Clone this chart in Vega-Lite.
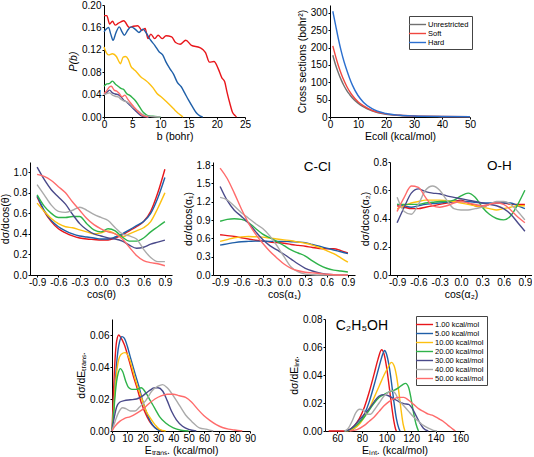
{
"$schema": "https://vega.github.io/schema/vega-lite/v6.json",
"padding": {"left": 0, "top": 0, "right": 0, "bottom": 0},
"background": "white",
"config": {
  "view": {"stroke": null},
  "font": "Liberation Sans",
  "locale": {"number": {"decimal": ".", "thousands": ",", "grouping": [3], "currency": ["$", ""], "minus": "-"}},
  "axis": {"domainColor": "#000", "tickColor": "#000", "labelColor": "#000", "titleColor": "#000", "grid": false,
    "labelFont": "Liberation Sans", "titleFont": "Liberation Sans", "labelFontSize": 10, "titleFontSize": 10.5,
    "titleFontWeight": "normal", "tickSize": 2, "domainWidth": 1, "tickWidth": 1,
    "labelFlush": false, "labelOverlap": false},
  "axisX": {"labelPadding": 0, "titlePadding": 2},
  "axisY": {"labelPadding": 1, "titlePadding": 3},
  "line": {"strokeWidth": 1.4, "interpolate": "monotone"}
},
"datasets": {
"pb": [
{"s":"1.00","x":0,"y":0.181},{"s":"1.00","x":0.5,"y":0.181},{"s":"1.00","x":1,"y":0.166},{"s":"1.00","x":1.5,"y":0.171},{"s":"1.00","x":2,"y":0.164},{"s":"1.00","x":2.5,"y":0.167},{"s":"1.00","x":3.5,"y":0.172},{"s":"1.00","x":4.5,"y":0.160},{"s":"1.00","x":5.2,"y":0.162},{"s":"1.00","x":6,"y":0.163},{"s":"1.00","x":6.7,"y":0.155},{"s":"1.00","x":7.3,"y":0.158},{"s":"1.00","x":7.8,"y":0.140},{"s":"1.00","x":8.3,"y":0.148},{"s":"1.00","x":9,"y":0.140},{"s":"1.00","x":9.6,"y":0.146},{"s":"1.00","x":10.3,"y":0.140},{"s":"1.00","x":11,"y":0.145},{"s":"1.00","x":12,"y":0.143},{"s":"1.00","x":12.7,"y":0.133},{"s":"1.00","x":13.5,"y":0.130},{"s":"1.00","x":14.5,"y":0.137},{"s":"1.00","x":15.5,"y":0.128},{"s":"1.00","x":17,"y":0.124},{"s":"1.00","x":18,"y":0.115},{"s":"1.00","x":18.7,"y":0.098},{"s":"1.00","x":19.5,"y":0.099},{"s":"1.00","x":20.3,"y":0.085},{"s":"1.00","x":20.9,"y":0.070},{"s":"1.00","x":21.4,"y":0.063},{"s":"1.00","x":21.8,"y":0.045},{"s":"1.00","x":22.3,"y":0.025},{"s":"1.00","x":22.8,"y":0.008},{"s":"1.00","x":23.3,"y":0.002},{"s":"1.00","x":23.5,"y":0},
{"s":"5.00","x":0,"y":0.152},{"s":"5.00","x":0.4,"y":0.157},{"s":"5.00","x":0.8,"y":0.160},{"s":"5.00","x":1.2,"y":0.148},{"s":"5.00","x":1.6,"y":0.137},{"s":"5.00","x":2.1,"y":0.150},{"s":"5.00","x":2.7,"y":0.161},{"s":"5.00","x":3.2,"y":0.152},{"s":"5.00","x":3.6,"y":0.146},{"s":"5.00","x":4.2,"y":0.155},{"s":"5.00","x":4.8,"y":0.161},{"s":"5.00","x":5.5,"y":0.157},{"s":"5.00","x":6.2,"y":0.151},{"s":"5.00","x":6.9,"y":0.157},{"s":"5.00","x":7.5,"y":0.150},{"s":"5.00","x":8.2,"y":0.138},{"s":"5.00","x":9,"y":0.128},{"s":"5.00","x":9.8,"y":0.116},{"s":"5.00","x":10.4,"y":0.111},{"s":"5.00","x":11,"y":0.098},{"s":"5.00","x":11.7,"y":0.086},{"s":"5.00","x":12.3,"y":0.077},{"s":"5.00","x":13,"y":0.062},{"s":"5.00","x":13.7,"y":0.054},{"s":"5.00","x":14.3,"y":0.043},{"s":"5.00","x":15,"y":0.030},{"s":"5.00","x":15.7,"y":0.018},{"s":"5.00","x":16.4,"y":0.007},{"s":"5.00","x":17,"y":0.002},{"s":"5.00","x":17.5,"y":0},
{"s":"10.00","x":0,"y":0.125},{"s":"10.00","x":0.4,"y":0.115},{"s":"10.00","x":0.8,"y":0.111},{"s":"10.00","x":1.5,"y":0.113},{"s":"10.00","x":2.2,"y":0.108},{"s":"10.00","x":2.6,"y":0.100},{"s":"10.00","x":2.9,"y":0.095},{"s":"10.00","x":3.4,"y":0.107},{"s":"10.00","x":3.8,"y":0.108},{"s":"10.00","x":4.3,"y":0.103},{"s":"10.00","x":4.8,"y":0.090},{"s":"10.00","x":5.3,"y":0.085},{"s":"10.00","x":5.8,"y":0.080},{"s":"10.00","x":6.5,"y":0.072},{"s":"10.00","x":7.3,"y":0.066},{"s":"10.00","x":8,"y":0.060},{"s":"10.00","x":8.7,"y":0.052},{"s":"10.00","x":9.4,"y":0.042},{"s":"10.00","x":10,"y":0.037},{"s":"10.00","x":10.8,"y":0.030},{"s":"10.00","x":11.5,"y":0.023},{"s":"10.00","x":12.3,"y":0.015},{"s":"10.00","x":13,"y":0.008},{"s":"10.00","x":13.5,"y":0.004},{"s":"10.00","x":14,"y":0},
{"s":"20.00","x":0,"y":0.055},{"s":"20.00","x":0.5,"y":0.059},{"s":"20.00","x":1,"y":0.060},{"s":"20.00","x":1.5,"y":0.064},{"s":"20.00","x":2,"y":0.059},{"s":"20.00","x":2.5,"y":0.055},{"s":"20.00","x":3,"y":0.051},{"s":"20.00","x":3.5,"y":0.049},{"s":"20.00","x":4,"y":0.042},{"s":"20.00","x":4.5,"y":0.039},{"s":"20.00","x":5,"y":0.035},{"s":"20.00","x":5.5,"y":0.030},{"s":"20.00","x":6,"y":0.023},{"s":"20.00","x":6.5,"y":0.015},{"s":"20.00","x":7,"y":0.008},{"s":"20.00","x":7.5,"y":0.004},{"s":"20.00","x":8,"y":0.002},{"s":"20.00","x":9,"y":0.001},{"s":"20.00","x":10,"y":0},
{"s":"30.00","x":0,"y":0.040},{"s":"30.00","x":0.5,"y":0.044},{"s":"30.00","x":1,"y":0.048},{"s":"30.00","x":1.5,"y":0.043},{"s":"30.00","x":2,"y":0.041},{"s":"30.00","x":2.5,"y":0.040},{"s":"30.00","x":3,"y":0.036},{"s":"30.00","x":3.5,"y":0.030},{"s":"30.00","x":4,"y":0.027},{"s":"30.00","x":4.5,"y":0.022},{"s":"30.00","x":5,"y":0.017},{"s":"30.00","x":5.5,"y":0.012},{"s":"30.00","x":6,"y":0.007},{"s":"30.00","x":6.5,"y":0.003},{"s":"30.00","x":7,"y":0.001},{"s":"30.00","x":8,"y":0},
{"s":"40.00","x":0,"y":0.040},{"s":"40.00","x":0.5,"y":0.042},{"s":"40.00","x":1,"y":0.043},{"s":"40.00","x":1.5,"y":0.039},{"s":"40.00","x":2,"y":0.037},{"s":"40.00","x":2.5,"y":0.036},{"s":"40.00","x":3,"y":0.032},{"s":"40.00","x":3.5,"y":0.029},{"s":"40.00","x":4,"y":0.027},{"s":"40.00","x":4.5,"y":0.024},{"s":"40.00","x":5,"y":0.019},{"s":"40.00","x":5.5,"y":0.015},{"s":"40.00","x":6,"y":0.011},{"s":"40.00","x":6.5,"y":0.007},{"s":"40.00","x":7,"y":0.004},{"s":"40.00","x":7.5,"y":0.002},{"s":"40.00","x":8.5,"y":0.001},{"s":"40.00","x":10,"y":0},
{"s":"50.00","x":0,"y":0.042},{"s":"50.00","x":0.5,"y":0.047},{"s":"50.00","x":1,"y":0.054},{"s":"50.00","x":1.3,"y":0.055},{"s":"50.00","x":1.8,"y":0.048},{"s":"50.00","x":2.3,"y":0.046},{"s":"50.00","x":2.7,"y":0.042},{"s":"50.00","x":3.2,"y":0.036},{"s":"50.00","x":3.7,"y":0.039},{"s":"50.00","x":4.2,"y":0.032},{"s":"50.00","x":4.8,"y":0.024},{"s":"50.00","x":5.3,"y":0.018},{"s":"50.00","x":5.8,"y":0.012},{"s":"50.00","x":6.3,"y":0.007},{"s":"50.00","x":6.8,"y":0.003},{"s":"50.00","x":7.3,"y":0.001},{"s":"50.00","x":7.8,"y":0}
],
"cs": [
{"s":"Unrestricted","x":1,"y":178},{"s":"Unrestricted","x":2,"y":150},{"s":"Unrestricted","x":3,"y":127},{"s":"Unrestricted","x":4,"y":107},{"s":"Unrestricted","x":5,"y":90},{"s":"Unrestricted","x":6,"y":76},{"s":"Unrestricted","x":7,"y":65},{"s":"Unrestricted","x":8,"y":55},{"s":"Unrestricted","x":10,"y":40},{"s":"Unrestricted","x":12,"y":29},{"s":"Unrestricted","x":15,"y":18},{"s":"Unrestricted","x":20,"y":8},{"s":"Unrestricted","x":25,"y":4.5},{"s":"Unrestricted","x":30,"y":2.5},{"s":"Unrestricted","x":40,"y":1.2},{"s":"Unrestricted","x":50,"y":0.8},
{"s":"Soft","x":1,"y":205},{"s":"Soft","x":2,"y":175},{"s":"Soft","x":3,"y":148},{"s":"Soft","x":4,"y":125},{"s":"Soft","x":5,"y":105},{"s":"Soft","x":6,"y":88},{"s":"Soft","x":7,"y":74},{"s":"Soft","x":8,"y":62},{"s":"Soft","x":10,"y":44},{"s":"Soft","x":12,"y":32},{"s":"Soft","x":15,"y":19},{"s":"Soft","x":20,"y":9},{"s":"Soft","x":25,"y":5},{"s":"Soft","x":30,"y":3},{"s":"Soft","x":40,"y":1.5},{"s":"Soft","x":50,"y":1},
{"s":"Hard","x":1,"y":305},{"s":"Hard","x":2,"y":265},{"s":"Hard","x":3,"y":225},{"s":"Hard","x":4,"y":190},{"s":"Hard","x":5,"y":160},{"s":"Hard","x":6,"y":135},{"s":"Hard","x":7,"y":112},{"s":"Hard","x":8,"y":92},{"s":"Hard","x":10,"y":62},{"s":"Hard","x":12,"y":42},{"s":"Hard","x":15,"y":24},{"s":"Hard","x":20,"y":10},{"s":"Hard","x":25,"y":5},{"s":"Hard","x":30,"y":3},{"s":"Hard","x":40,"y":1.5},{"s":"Hard","x":50,"y":1}
],
"th": [
{"s":"1.00","x":-0.9,"y":0.76},{"s":"1.00","x":-0.8,"y":0.62},{"s":"1.00","x":-0.7,"y":0.52},{"s":"1.00","x":-0.6,"y":0.45},{"s":"1.00","x":-0.5,"y":0.41},{"s":"1.00","x":-0.4,"y":0.38},{"s":"1.00","x":-0.3,"y":0.36},{"s":"1.00","x":-0.2,"y":0.35},{"s":"1.00","x":-0.1,"y":0.345},{"s":"1.00","x":0,"y":0.34},{"s":"1.00","x":0.1,"y":0.34},{"s":"1.00","x":0.2,"y":0.36},{"s":"1.00","x":0.3,"y":0.39},{"s":"1.00","x":0.4,"y":0.43},{"s":"1.00","x":0.5,"y":0.47},{"s":"1.00","x":0.6,"y":0.52},{"s":"1.00","x":0.7,"y":0.62},{"s":"1.00","x":0.8,"y":0.80},{"s":"1.00","x":0.9,"y":1.03},
{"s":"5.00","x":-0.9,"y":0.77},{"s":"5.00","x":-0.8,"y":0.63},{"s":"5.00","x":-0.7,"y":0.53},{"s":"5.00","x":-0.6,"y":0.47},{"s":"5.00","x":-0.5,"y":0.43},{"s":"5.00","x":-0.4,"y":0.40},{"s":"5.00","x":-0.3,"y":0.38},{"s":"5.00","x":-0.2,"y":0.37},{"s":"5.00","x":-0.1,"y":0.36},{"s":"5.00","x":0,"y":0.35},{"s":"5.00","x":0.1,"y":0.35},{"s":"5.00","x":0.2,"y":0.37},{"s":"5.00","x":0.3,"y":0.40},{"s":"5.00","x":0.4,"y":0.44},{"s":"5.00","x":0.5,"y":0.48},{"s":"5.00","x":0.6,"y":0.52},{"s":"5.00","x":0.7,"y":0.60},{"s":"5.00","x":0.8,"y":0.75},{"s":"5.00","x":0.9,"y":0.95},
{"s":"10.00","x":-0.9,"y":0.70},{"s":"10.00","x":-0.8,"y":0.62},{"s":"10.00","x":-0.7,"y":0.55},{"s":"10.00","x":-0.6,"y":0.50},{"s":"10.00","x":-0.5,"y":0.47},{"s":"10.00","x":-0.4,"y":0.46},{"s":"10.00","x":-0.3,"y":0.44},{"s":"10.00","x":-0.2,"y":0.42},{"s":"10.00","x":-0.1,"y":0.40},{"s":"10.00","x":0,"y":0.41},{"s":"10.00","x":0.1,"y":0.43},{"s":"10.00","x":0.2,"y":0.40},{"s":"10.00","x":0.3,"y":0.37},{"s":"10.00","x":0.4,"y":0.40},{"s":"10.00","x":0.5,"y":0.43},{"s":"10.00","x":0.6,"y":0.46},{"s":"10.00","x":0.7,"y":0.52},{"s":"10.00","x":0.8,"y":0.65},{"s":"10.00","x":0.9,"y":0.80},
{"s":"20.00","x":-0.9,"y":0.78},{"s":"20.00","x":-0.8,"y":0.67},{"s":"20.00","x":-0.7,"y":0.60},{"s":"20.00","x":-0.6,"y":0.56},{"s":"20.00","x":-0.5,"y":0.56},{"s":"20.00","x":-0.4,"y":0.57},{"s":"20.00","x":-0.3,"y":0.57},{"s":"20.00","x":-0.2,"y":0.50},{"s":"20.00","x":-0.1,"y":0.44},{"s":"20.00","x":0,"y":0.42},{"s":"20.00","x":0.1,"y":0.45},{"s":"20.00","x":0.2,"y":0.43},{"s":"20.00","x":0.3,"y":0.37},{"s":"20.00","x":0.4,"y":0.33},{"s":"20.00","x":0.5,"y":0.33},{"s":"20.00","x":0.6,"y":0.36},{"s":"20.00","x":0.7,"y":0.42},{"s":"20.00","x":0.8,"y":0.47},{"s":"20.00","x":0.9,"y":0.52},
{"s":"30.00","x":-0.9,"y":1.05},{"s":"30.00","x":-0.8,"y":0.93},{"s":"30.00","x":-0.7,"y":0.83},{"s":"30.00","x":-0.6,"y":0.76},{"s":"30.00","x":-0.5,"y":0.69},{"s":"30.00","x":-0.4,"y":0.59},{"s":"30.00","x":-0.3,"y":0.50},{"s":"30.00","x":-0.2,"y":0.44},{"s":"30.00","x":-0.1,"y":0.40},{"s":"30.00","x":0,"y":0.38},{"s":"30.00","x":0.1,"y":0.36},{"s":"30.00","x":0.2,"y":0.35},{"s":"30.00","x":0.3,"y":0.33},{"s":"30.00","x":0.4,"y":0.29},{"s":"30.00","x":0.5,"y":0.26},{"s":"30.00","x":0.6,"y":0.27},{"s":"30.00","x":0.7,"y":0.30},{"s":"30.00","x":0.8,"y":0.32},{"s":"30.00","x":0.9,"y":0.34},
{"s":"40.00","x":-0.9,"y":0.88},{"s":"40.00","x":-0.8,"y":0.78},{"s":"40.00","x":-0.7,"y":0.68},{"s":"40.00","x":-0.6,"y":0.62},{"s":"40.00","x":-0.5,"y":0.61},{"s":"40.00","x":-0.4,"y":0.63},{"s":"40.00","x":-0.3,"y":0.66},{"s":"40.00","x":-0.2,"y":0.63},{"s":"40.00","x":-0.1,"y":0.59},{"s":"40.00","x":0,"y":0.56},{"s":"40.00","x":0.1,"y":0.53},{"s":"40.00","x":0.2,"y":0.46},{"s":"40.00","x":0.3,"y":0.40},{"s":"40.00","x":0.4,"y":0.38},{"s":"40.00","x":0.5,"y":0.35},{"s":"40.00","x":0.6,"y":0.25},{"s":"40.00","x":0.7,"y":0.17},{"s":"40.00","x":0.8,"y":0.13},{"s":"40.00","x":0.9,"y":0.13},
{"s":"50.00","x":-0.9,"y":0.98},{"s":"50.00","x":-0.8,"y":0.96},{"s":"50.00","x":-0.7,"y":0.92},{"s":"50.00","x":-0.6,"y":0.86},{"s":"50.00","x":-0.5,"y":0.80},{"s":"50.00","x":-0.4,"y":0.71},{"s":"50.00","x":-0.3,"y":0.63},{"s":"50.00","x":-0.2,"y":0.55},{"s":"50.00","x":-0.1,"y":0.49},{"s":"50.00","x":0,"y":0.45},{"s":"50.00","x":0.1,"y":0.42},{"s":"50.00","x":0.2,"y":0.40},{"s":"50.00","x":0.3,"y":0.35},{"s":"50.00","x":0.4,"y":0.27},{"s":"50.00","x":0.5,"y":0.19},{"s":"50.00","x":0.6,"y":0.14},{"s":"50.00","x":0.7,"y":0.12},{"s":"50.00","x":0.8,"y":0.11},{"s":"50.00","x":0.9,"y":0.09}
],
"a1": [
{"s":"1.00","x":-0.9,"y":0.66},{"s":"1.00","x":-0.8,"y":0.645},{"s":"1.00","x":-0.7,"y":0.63},{"s":"1.00","x":-0.6,"y":0.61},{"s":"1.00","x":-0.5,"y":0.59},{"s":"1.00","x":-0.4,"y":0.57},{"s":"1.00","x":-0.3,"y":0.555},{"s":"1.00","x":-0.2,"y":0.54},{"s":"1.00","x":-0.1,"y":0.53},{"s":"1.00","x":0,"y":0.52},{"s":"1.00","x":0.1,"y":0.50},{"s":"1.00","x":0.2,"y":0.485},{"s":"1.00","x":0.3,"y":0.47},{"s":"1.00","x":0.4,"y":0.45},{"s":"1.00","x":0.5,"y":0.435},{"s":"1.00","x":0.6,"y":0.43},{"s":"1.00","x":0.7,"y":0.43},{"s":"1.00","x":0.8,"y":0.40},{"s":"1.00","x":0.9,"y":0.36},
{"s":"5.00","x":-0.9,"y":0.49},{"s":"5.00","x":-0.8,"y":0.51},{"s":"5.00","x":-0.7,"y":0.53},{"s":"5.00","x":-0.6,"y":0.545},{"s":"5.00","x":-0.5,"y":0.55},{"s":"5.00","x":-0.4,"y":0.555},{"s":"5.00","x":-0.3,"y":0.555},{"s":"5.00","x":-0.2,"y":0.55},{"s":"5.00","x":-0.1,"y":0.55},{"s":"5.00","x":0,"y":0.55},{"s":"5.00","x":0.1,"y":0.545},{"s":"5.00","x":0.2,"y":0.54},{"s":"5.00","x":0.3,"y":0.53},{"s":"5.00","x":0.4,"y":0.50},{"s":"5.00","x":0.5,"y":0.47},{"s":"5.00","x":0.6,"y":0.44},{"s":"5.00","x":0.7,"y":0.41},{"s":"5.00","x":0.8,"y":0.38},{"s":"5.00","x":0.9,"y":0.35},
{"s":"10.00","x":-0.9,"y":0.55},{"s":"10.00","x":-0.8,"y":0.58},{"s":"10.00","x":-0.7,"y":0.61},{"s":"10.00","x":-0.6,"y":0.625},{"s":"10.00","x":-0.5,"y":0.63},{"s":"10.00","x":-0.4,"y":0.625},{"s":"10.00","x":-0.3,"y":0.62},{"s":"10.00","x":-0.2,"y":0.605},{"s":"10.00","x":-0.1,"y":0.59},{"s":"10.00","x":0,"y":0.575},{"s":"10.00","x":0.1,"y":0.56},{"s":"10.00","x":0.2,"y":0.54},{"s":"10.00","x":0.3,"y":0.52},{"s":"10.00","x":0.4,"y":0.49},{"s":"10.00","x":0.5,"y":0.45},{"s":"10.00","x":0.6,"y":0.40},{"s":"10.00","x":0.7,"y":0.35},{"s":"10.00","x":0.8,"y":0.28},{"s":"10.00","x":0.9,"y":0.21},
{"s":"20.00","x":-0.9,"y":0.88},{"s":"20.00","x":-0.8,"y":0.91},{"s":"20.00","x":-0.7,"y":0.92},{"s":"20.00","x":-0.6,"y":0.91},{"s":"20.00","x":-0.5,"y":0.86},{"s":"20.00","x":-0.4,"y":0.76},{"s":"20.00","x":-0.3,"y":0.67},{"s":"20.00","x":-0.2,"y":0.61},{"s":"20.00","x":-0.1,"y":0.55},{"s":"20.00","x":0,"y":0.48},{"s":"20.00","x":0.1,"y":0.41},{"s":"20.00","x":0.2,"y":0.36},{"s":"20.00","x":0.3,"y":0.31},{"s":"20.00","x":0.4,"y":0.23},{"s":"20.00","x":0.5,"y":0.16},{"s":"20.00","x":0.6,"y":0.11},{"s":"20.00","x":0.7,"y":0.08},{"s":"20.00","x":0.8,"y":0.065},{"s":"20.00","x":0.9,"y":0.05},
{"s":"30.00","x":-0.9,"y":1.45},{"s":"30.00","x":-0.8,"y":1.22},{"s":"30.00","x":-0.7,"y":1.06},{"s":"30.00","x":-0.6,"y":0.96},{"s":"30.00","x":-0.5,"y":0.85},{"s":"30.00","x":-0.4,"y":0.71},{"s":"30.00","x":-0.3,"y":0.58},{"s":"30.00","x":-0.2,"y":0.48},{"s":"30.00","x":-0.1,"y":0.41},{"s":"30.00","x":0,"y":0.34},{"s":"30.00","x":0.1,"y":0.26},{"s":"30.00","x":0.2,"y":0.18},{"s":"30.00","x":0.3,"y":0.11},{"s":"30.00","x":0.4,"y":0.065},{"s":"30.00","x":0.5,"y":0.035},{"s":"30.00","x":0.6,"y":0.015},{"s":"30.00","x":0.7,"y":0.005},{"s":"30.00","x":0.8,"y":0.002},{"s":"30.00","x":0.9,"y":0},
{"s":"40.00","x":-0.9,"y":1.27},{"s":"40.00","x":-0.8,"y":1.23},{"s":"40.00","x":-0.7,"y":1.13},{"s":"40.00","x":-0.6,"y":1.02},{"s":"40.00","x":-0.5,"y":0.93},{"s":"40.00","x":-0.4,"y":0.84},{"s":"40.00","x":-0.3,"y":0.76},{"s":"40.00","x":-0.2,"y":0.64},{"s":"40.00","x":-0.1,"y":0.48},{"s":"40.00","x":0,"y":0.30},{"s":"40.00","x":0.1,"y":0.13},{"s":"40.00","x":0.2,"y":0.05},{"s":"40.00","x":0.3,"y":0.015},{"s":"40.00","x":0.4,"y":0.005},{"s":"40.00","x":0.5,"y":0},{"s":"40.00","x":0.7,"y":0},{"s":"40.00","x":0.9,"y":0},
{"s":"50.00","x":-0.9,"y":1.75},{"s":"50.00","x":-0.8,"y":1.58},{"s":"50.00","x":-0.7,"y":1.34},{"s":"50.00","x":-0.6,"y":1.08},{"s":"50.00","x":-0.5,"y":0.85},{"s":"50.00","x":-0.4,"y":0.67},{"s":"50.00","x":-0.3,"y":0.52},{"s":"50.00","x":-0.2,"y":0.39},{"s":"50.00","x":-0.1,"y":0.28},{"s":"50.00","x":0,"y":0.18},{"s":"50.00","x":0.1,"y":0.11},{"s":"50.00","x":0.2,"y":0.07},{"s":"50.00","x":0.3,"y":0.045},{"s":"50.00","x":0.4,"y":0.035},{"s":"50.00","x":0.5,"y":0.025},{"s":"50.00","x":0.6,"y":0.012},{"s":"50.00","x":0.7,"y":0.003},{"s":"50.00","x":0.8,"y":0},{"s":"50.00","x":0.9,"y":0}
],
"a2": [
{"s":"1.00","x":-0.9,"y":0.49},{"s":"1.00","x":-0.8,"y":0.48},{"s":"1.00","x":-0.7,"y":0.47},{"s":"1.00","x":-0.6,"y":0.47},{"s":"1.00","x":-0.5,"y":0.48},{"s":"1.00","x":-0.4,"y":0.49},{"s":"1.00","x":-0.3,"y":0.50},{"s":"1.00","x":-0.2,"y":0.51},{"s":"1.00","x":-0.1,"y":0.52},{"s":"1.00","x":0,"y":0.53},{"s":"1.00","x":0.1,"y":0.51},{"s":"1.00","x":0.2,"y":0.49},{"s":"1.00","x":0.3,"y":0.48},{"s":"1.00","x":0.4,"y":0.50},{"s":"1.00","x":0.5,"y":0.51},{"s":"1.00","x":0.6,"y":0.51},{"s":"1.00","x":0.7,"y":0.50},{"s":"1.00","x":0.8,"y":0.50},{"s":"1.00","x":0.9,"y":0.50},
{"s":"5.00","x":-0.9,"y":0.50},{"s":"5.00","x":-0.8,"y":0.49},{"s":"5.00","x":-0.7,"y":0.48},{"s":"5.00","x":-0.6,"y":0.49},{"s":"5.00","x":-0.5,"y":0.50},{"s":"5.00","x":-0.4,"y":0.505},{"s":"5.00","x":-0.3,"y":0.51},{"s":"5.00","x":-0.2,"y":0.515},{"s":"5.00","x":-0.1,"y":0.52},{"s":"5.00","x":0,"y":0.52},{"s":"5.00","x":0.1,"y":0.52},{"s":"5.00","x":0.2,"y":0.515},{"s":"5.00","x":0.3,"y":0.51},{"s":"5.00","x":0.4,"y":0.51},{"s":"5.00","x":0.5,"y":0.51},{"s":"5.00","x":0.6,"y":0.51},{"s":"5.00","x":0.7,"y":0.51},{"s":"5.00","x":0.8,"y":0.49},{"s":"5.00","x":0.9,"y":0.47},
{"s":"10.00","x":-0.9,"y":0.47},{"s":"10.00","x":-0.8,"y":0.49},{"s":"10.00","x":-0.7,"y":0.51},{"s":"10.00","x":-0.6,"y":0.52},{"s":"10.00","x":-0.5,"y":0.53},{"s":"10.00","x":-0.4,"y":0.53},{"s":"10.00","x":-0.3,"y":0.53},{"s":"10.00","x":-0.2,"y":0.525},{"s":"10.00","x":-0.1,"y":0.52},{"s":"10.00","x":0,"y":0.51},{"s":"10.00","x":0.1,"y":0.50},{"s":"10.00","x":0.2,"y":0.49},{"s":"10.00","x":0.3,"y":0.48},{"s":"10.00","x":0.4,"y":0.47},{"s":"10.00","x":0.5,"y":0.46},{"s":"10.00","x":0.6,"y":0.47},{"s":"10.00","x":0.7,"y":0.48},{"s":"10.00","x":0.8,"y":0.49},{"s":"10.00","x":0.9,"y":0.49},
{"s":"20.00","x":-0.9,"y":0.50},{"s":"20.00","x":-0.8,"y":0.50},{"s":"20.00","x":-0.7,"y":0.50},{"s":"20.00","x":-0.6,"y":0.50},{"s":"20.00","x":-0.5,"y":0.51},{"s":"20.00","x":-0.4,"y":0.515},{"s":"20.00","x":-0.3,"y":0.52},{"s":"20.00","x":-0.2,"y":0.52},{"s":"20.00","x":-0.1,"y":0.53},{"s":"20.00","x":0,"y":0.56},{"s":"20.00","x":0.1,"y":0.58},{"s":"20.00","x":0.2,"y":0.55},{"s":"20.00","x":0.3,"y":0.48},{"s":"20.00","x":0.4,"y":0.43},{"s":"20.00","x":0.5,"y":0.40},{"s":"20.00","x":0.6,"y":0.39},{"s":"20.00","x":0.7,"y":0.42},{"s":"20.00","x":0.8,"y":0.50},{"s":"20.00","x":0.9,"y":0.60},
{"s":"30.00","x":-0.9,"y":0.37},{"s":"30.00","x":-0.8,"y":0.48},{"s":"30.00","x":-0.7,"y":0.58},{"s":"30.00","x":-0.6,"y":0.61},{"s":"30.00","x":-0.5,"y":0.59},{"s":"30.00","x":-0.4,"y":0.58},{"s":"30.00","x":-0.3,"y":0.575},{"s":"30.00","x":-0.2,"y":0.56},{"s":"30.00","x":-0.1,"y":0.55},{"s":"30.00","x":0,"y":0.54},{"s":"30.00","x":0.1,"y":0.53},{"s":"30.00","x":0.2,"y":0.52},{"s":"30.00","x":0.3,"y":0.51},{"s":"30.00","x":0.4,"y":0.50},{"s":"30.00","x":0.5,"y":0.49},{"s":"30.00","x":0.6,"y":0.47},{"s":"30.00","x":0.7,"y":0.43},{"s":"30.00","x":0.8,"y":0.37},{"s":"30.00","x":0.9,"y":0.31},
{"s":"40.00","x":-0.9,"y":0.55},{"s":"40.00","x":-0.8,"y":0.45},{"s":"40.00","x":-0.7,"y":0.43},{"s":"40.00","x":-0.6,"y":0.50},{"s":"40.00","x":-0.5,"y":0.60},{"s":"40.00","x":-0.4,"y":0.63},{"s":"40.00","x":-0.3,"y":0.60},{"s":"40.00","x":-0.2,"y":0.53},{"s":"40.00","x":-0.1,"y":0.47},{"s":"40.00","x":0,"y":0.46},{"s":"40.00","x":0.1,"y":0.46},{"s":"40.00","x":0.2,"y":0.47},{"s":"40.00","x":0.3,"y":0.48},{"s":"40.00","x":0.4,"y":0.50},{"s":"40.00","x":0.5,"y":0.52},{"s":"40.00","x":0.6,"y":0.52},{"s":"40.00","x":0.7,"y":0.50},{"s":"40.00","x":0.8,"y":0.45},{"s":"40.00","x":0.9,"y":0.39},
{"s":"50.00","x":-0.9,"y":0.45},{"s":"50.00","x":-0.8,"y":0.55},{"s":"50.00","x":-0.7,"y":0.63},{"s":"50.00","x":-0.6,"y":0.62},{"s":"50.00","x":-0.5,"y":0.55},{"s":"50.00","x":-0.4,"y":0.49},{"s":"50.00","x":-0.3,"y":0.48},{"s":"50.00","x":-0.2,"y":0.49},{"s":"50.00","x":-0.1,"y":0.51},{"s":"50.00","x":0,"y":0.52},{"s":"50.00","x":0.1,"y":0.51},{"s":"50.00","x":0.2,"y":0.50},{"s":"50.00","x":0.3,"y":0.49},{"s":"50.00","x":0.4,"y":0.50},{"s":"50.00","x":0.5,"y":0.51},{"s":"50.00","x":0.6,"y":0.50},{"s":"50.00","x":0.7,"y":0.46},{"s":"50.00","x":0.8,"y":0.41},{"s":"50.00","x":0.9,"y":0.37}
],
"et": [
{"s":"1.00","x":0,"y":0},{"s":"1.00","x":1,"y":0.025},{"s":"1.00","x":2,"y":0.045},{"s":"1.00","x":3,"y":0.056},{"s":"1.00","x":4.4,"y":0.060},{"s":"1.00","x":6,"y":0.058},{"s":"1.00","x":8,"y":0.054},{"s":"1.00","x":10,"y":0.048},{"s":"1.00","x":12,"y":0.041},{"s":"1.00","x":14,"y":0.034},{"s":"1.00","x":16.3,"y":0.027},{"s":"1.00","x":19,"y":0.018},{"s":"1.00","x":22.8,"y":0.009},{"s":"1.00","x":26,"y":0.004},{"s":"1.00","x":29,"y":0.0015},{"s":"1.00","x":33,"y":0},
{"s":"5.00","x":0,"y":0},{"s":"5.00","x":1,"y":0.012},{"s":"5.00","x":2,"y":0.028},{"s":"5.00","x":3,"y":0.042},{"s":"5.00","x":4,"y":0.051},{"s":"5.00","x":5,"y":0.056},{"s":"5.00","x":6.5,"y":0.059},{"s":"5.00","x":8,"y":0.058},{"s":"5.00","x":10,"y":0.053},{"s":"5.00","x":12,"y":0.046},{"s":"5.00","x":15,"y":0.036},{"s":"5.00","x":17.5,"y":0.028},{"s":"5.00","x":20,"y":0.019},{"s":"5.00","x":22,"y":0.013},{"s":"5.00","x":25,"y":0.006},{"s":"5.00","x":28,"y":0.002},{"s":"5.00","x":32,"y":0},
{"s":"10.00","x":0,"y":0},{"s":"10.00","x":1,"y":0.012},{"s":"10.00","x":2,"y":0.026},{"s":"10.00","x":3,"y":0.036},{"s":"10.00","x":4,"y":0.043},{"s":"10.00","x":6,"y":0.048},{"s":"10.00","x":8.5,"y":0.049},{"s":"10.00","x":11,"y":0.046},{"s":"10.00","x":13,"y":0.040},{"s":"10.00","x":15,"y":0.033},{"s":"10.00","x":17,"y":0.027},{"s":"10.00","x":19.5,"y":0.020},{"s":"10.00","x":22,"y":0.013},{"s":"10.00","x":25,"y":0.008},{"s":"10.00","x":28,"y":0.004},{"s":"10.00","x":31,"y":0.001},{"s":"10.00","x":35,"y":0},
{"s":"20.00","x":0,"y":0},{"s":"20.00","x":1,"y":0.010},{"s":"20.00","x":2,"y":0.022},{"s":"20.00","x":3,"y":0.031},{"s":"20.00","x":4,"y":0.036},{"s":"20.00","x":5.5,"y":0.039},{"s":"20.00","x":7,"y":0.037},{"s":"20.00","x":9,"y":0.031},{"s":"20.00","x":11,"y":0.027},{"s":"20.00","x":13,"y":0.026},{"s":"20.00","x":16,"y":0.026},{"s":"20.00","x":19,"y":0.027},{"s":"20.00","x":22,"y":0.024},{"s":"20.00","x":25,"y":0.019},{"s":"20.00","x":28,"y":0.014},{"s":"20.00","x":31,"y":0.009},{"s":"20.00","x":35,"y":0.005},{"s":"20.00","x":40,"y":0.002},{"s":"20.00","x":45,"y":0.0005},{"s":"20.00","x":50,"y":0},
{"s":"30.00","x":0,"y":0},{"s":"30.00","x":1,"y":0.006},{"s":"30.00","x":2,"y":0.011},{"s":"30.00","x":3,"y":0.015},{"s":"30.00","x":5,"y":0.018},{"s":"30.00","x":8,"y":0.019},{"s":"30.00","x":12,"y":0.0195},{"s":"30.00","x":16,"y":0.020},{"s":"30.00","x":20,"y":0.022},{"s":"30.00","x":24,"y":0.025},{"s":"30.00","x":28,"y":0.027},{"s":"30.00","x":30,"y":0.027},{"s":"30.00","x":33,"y":0.025},{"s":"30.00","x":36,"y":0.019},{"s":"30.00","x":39,"y":0.012},{"s":"30.00","x":42,"y":0.007},{"s":"30.00","x":46,"y":0.003},{"s":"30.00","x":50,"y":0.001},{"s":"30.00","x":55,"y":0},
{"s":"40.00","x":0,"y":0},{"s":"40.00","x":2,"y":0.006},{"s":"40.00","x":4,"y":0.011},{"s":"40.00","x":7,"y":0.0145},{"s":"40.00","x":9,"y":0.014},{"s":"40.00","x":12,"y":0.0125},{"s":"40.00","x":15,"y":0.0125},{"s":"40.00","x":18,"y":0.015},{"s":"40.00","x":22,"y":0.019},{"s":"40.00","x":26,"y":0.025},{"s":"40.00","x":30,"y":0.028},{"s":"40.00","x":33,"y":0.029},{"s":"40.00","x":36,"y":0.027},{"s":"40.00","x":40,"y":0.022},{"s":"40.00","x":44,"y":0.016},{"s":"40.00","x":48,"y":0.010},{"s":"40.00","x":52,"y":0.006},{"s":"40.00","x":57,"y":0.002},{"s":"40.00","x":62,"y":0.001},{"s":"40.00","x":66,"y":0},
{"s":"50.00","x":0,"y":0},{"s":"50.00","x":2,"y":0.003},{"s":"50.00","x":5,"y":0.006},{"s":"50.00","x":8,"y":0.0078},{"s":"50.00","x":12,"y":0.009},{"s":"50.00","x":16,"y":0.011},{"s":"50.00","x":20,"y":0.0135},{"s":"50.00","x":24,"y":0.017},{"s":"50.00","x":28,"y":0.020},{"s":"50.00","x":32,"y":0.022},{"s":"50.00","x":36,"y":0.023},{"s":"50.00","x":40,"y":0.023},{"s":"50.00","x":44,"y":0.022},{"s":"50.00","x":48,"y":0.021},{"s":"50.00","x":52,"y":0.018},{"s":"50.00","x":56,"y":0.0135},{"s":"50.00","x":60,"y":0.0095},{"s":"50.00","x":64,"y":0.0065},{"s":"50.00","x":68,"y":0.004},{"s":"50.00","x":72,"y":0.0022},{"s":"50.00","x":76,"y":0.0012},{"s":"50.00","x":80,"y":0.0006},{"s":"50.00","x":85,"y":0}
],
"ei": [
{"s":"1.00","x":53,"y":0},{"s":"1.00","x":66,"y":0},{"s":"1.00","x":70,"y":0.001},{"s":"1.00","x":74,"y":0.004},{"s":"1.00","x":78,"y":0.009},{"s":"1.00","x":82,"y":0.017},{"s":"1.00","x":86,"y":0.028},{"s":"1.00","x":90,"y":0.041},{"s":"1.00","x":93,"y":0.051},{"s":"1.00","x":96,"y":0.058},{"s":"1.00","x":98,"y":0.055},{"s":"1.00","x":100,"y":0.046},{"s":"1.00","x":102,"y":0.033},{"s":"1.00","x":104,"y":0.019},{"s":"1.00","x":106,"y":0.007},{"s":"1.00","x":107.5,"y":0.001},{"s":"1.00","x":108,"y":0},
{"s":"5.00","x":66,"y":0},{"s":"5.00","x":70,"y":0.0005},{"s":"5.00","x":74,"y":0.002},{"s":"5.00","x":78,"y":0.006},{"s":"5.00","x":82,"y":0.012},{"s":"5.00","x":86,"y":0.021},{"s":"5.00","x":90,"y":0.033},{"s":"5.00","x":94,"y":0.046},{"s":"5.00","x":97,"y":0.055},{"s":"5.00","x":98.5,"y":0.0575},{"s":"5.00","x":100,"y":0.055},{"s":"5.00","x":102,"y":0.047},{"s":"5.00","x":104,"y":0.035},{"s":"5.00","x":106,"y":0.021},{"s":"5.00","x":108,"y":0.009},{"s":"5.00","x":110,"y":0.002},{"s":"5.00","x":111,"y":0},
{"s":"10.00","x":66,"y":0},{"s":"10.00","x":70,"y":0.0005},{"s":"10.00","x":74,"y":0.002},{"s":"10.00","x":78,"y":0.005},{"s":"10.00","x":82,"y":0.010},{"s":"10.00","x":86,"y":0.016},{"s":"10.00","x":90,"y":0.024},{"s":"10.00","x":94,"y":0.032},{"s":"10.00","x":98,"y":0.040},{"s":"10.00","x":101,"y":0.045},{"s":"10.00","x":104,"y":0.049},{"s":"10.00","x":106,"y":0.047},{"s":"10.00","x":108,"y":0.040},{"s":"10.00","x":110,"y":0.028},{"s":"10.00","x":112,"y":0.014},{"s":"10.00","x":113.5,"y":0.005},{"s":"10.00","x":115,"y":0},
{"s":"20.00","x":66,"y":0},{"s":"20.00","x":70,"y":0.001},{"s":"20.00","x":74,"y":0.003},{"s":"20.00","x":78,"y":0.006},{"s":"20.00","x":82,"y":0.010},{"s":"20.00","x":86,"y":0.015},{"s":"20.00","x":90,"y":0.020},{"s":"20.00","x":94,"y":0.024},{"s":"20.00","x":98,"y":0.026},{"s":"20.00","x":102,"y":0.028},{"s":"20.00","x":106,"y":0.029},{"s":"20.00","x":110,"y":0.031},{"s":"20.00","x":113,"y":0.033},{"s":"20.00","x":115.5,"y":0.034},{"s":"20.00","x":118,"y":0.031},{"s":"20.00","x":120,"y":0.023},{"s":"20.00","x":122,"y":0.013},{"s":"20.00","x":124,"y":0.005},{"s":"20.00","x":126,"y":0},
{"s":"30.00","x":66,"y":0},{"s":"30.00","x":70,"y":0.001},{"s":"30.00","x":74,"y":0.004},{"s":"30.00","x":78,"y":0.008},{"s":"30.00","x":82,"y":0.012},{"s":"30.00","x":86,"y":0.016},{"s":"30.00","x":90,"y":0.021},{"s":"30.00","x":94,"y":0.025},{"s":"30.00","x":98,"y":0.026},{"s":"30.00","x":102,"y":0.025},{"s":"30.00","x":106,"y":0.023},{"s":"30.00","x":110,"y":0.021},{"s":"30.00","x":114,"y":0.0195},{"s":"30.00","x":118,"y":0.019},{"s":"30.00","x":121,"y":0.016},{"s":"30.00","x":124,"y":0.011},{"s":"30.00","x":127,"y":0.006},{"s":"30.00","x":130,"y":0.002},{"s":"30.00","x":134,"y":0},
{"s":"40.00","x":66,"y":0},{"s":"40.00","x":69,"y":0.002},{"s":"40.00","x":72,"y":0.007},{"s":"40.00","x":75,"y":0.013},{"s":"40.00","x":78,"y":0.0155},{"s":"40.00","x":81,"y":0.015},{"s":"40.00","x":84,"y":0.012},{"s":"40.00","x":87,"y":0.012},{"s":"40.00","x":90,"y":0.015},{"s":"40.00","x":94,"y":0.020},{"s":"40.00","x":98,"y":0.025},{"s":"40.00","x":102,"y":0.028},{"s":"40.00","x":104,"y":0.029},{"s":"40.00","x":107,"y":0.027},{"s":"40.00","x":110,"y":0.022},{"s":"40.00","x":114,"y":0.018},{"s":"40.00","x":118,"y":0.014},{"s":"40.00","x":122,"y":0.010},{"s":"40.00","x":126,"y":0.007},{"s":"40.00","x":130,"y":0.004},{"s":"40.00","x":134,"y":0.002},{"s":"40.00","x":138,"y":0.0005},{"s":"40.00","x":141,"y":0},
{"s":"50.00","x":70,"y":0},{"s":"50.00","x":76,"y":0.001},{"s":"50.00","x":82,"y":0.004},{"s":"50.00","x":86,"y":0.007},{"s":"50.00","x":90,"y":0.010},{"s":"50.00","x":94,"y":0.014},{"s":"50.00","x":98,"y":0.018},{"s":"50.00","x":102,"y":0.021},{"s":"50.00","x":106,"y":0.023},{"s":"50.00","x":110,"y":0.024},{"s":"50.00","x":114,"y":0.024},{"s":"50.00","x":118,"y":0.022},{"s":"50.00","x":122,"y":0.019},{"s":"50.00","x":126,"y":0.016},{"s":"50.00","x":130,"y":0.014},{"s":"50.00","x":134,"y":0.012},{"s":"50.00","x":138,"y":0.011},{"s":"50.00","x":142,"y":0.009},{"s":"50.00","x":146,"y":0.007},{"s":"50.00","x":150,"y":0.004},{"s":"50.00","x":153,"y":0.002},{"s":"50.00","x":156,"y":0}
]
},
"bounds": "flush",
"spacing": 157,
"resolve": {"scale": {"color": "independent"}, "legend": {"color": "independent"}},
"vconcat": [
{
 "bounds": "flush", "spacing": 0,
 "resolve": {"scale": {"color": "independent"}, "legend": {"color": "independent"}},
 "hconcat": [
  {"width": 74, "height": 112, "data": {"values": []}, "mark": "point"},
  {"width": 141, "height": 112, "data": {"name": "pb"}, "mark": "line",
   "encoding": {
    "x": {"field": "x", "type": "quantitative", "scale": {"domain": [0, 25], "nice": false}, "axis": {"values": [0, 5, 10, 15, 20, 25], "title": "b (bohr)"}},
    "y": {"field": "y", "type": "quantitative", "scale": {"domain": [0, 0.2], "nice": false}, "axis": {"values": [0, 0.04, 0.08, 0.12, 0.16, 0.2], "format": ".2f", "title": "P(b)", "titleFontStyle": "italic"}},
    "color": {"field": "s", "type": "nominal", "scale": {"domain": ["1.00","5.00","10.00","20.00","30.00","40.00","50.00"], "range": ["#e8161b","#1f5fa8","#fdc010","#2fb34a","#4a4a8a","#aaaaaa","#ff6b6b"]}, "legend": null}
   }},
  {"width": 85, "height": 112, "data": {"values": []}, "mark": "point"},
  {"width": 140, "height": 112, "data": {"name": "cs"}, "mark": "line",
   "encoding": {
    "x": {"field": "x", "type": "quantitative", "scale": {"domain": [0, 50], "nice": false}, "axis": {"values": [0, 10, 20, 30, 40, 50], "title": "Ecoll (kcal/mol)"}},
    "y": {"field": "y", "type": "quantitative", "scale": {"domain": [0, 323], "nice": false}, "axis": {"values": [0, 50, 100, 150, 200, 250, 300], "title": "Cross sections (bohr²)"}},
    "color": {"field": "s", "type": "nominal", "scale": {"domain": ["Unrestricted", "Soft", "Hard"], "range": ["#707070", "#f0463f", "#2b6fcf"]},
      "legend": {"title": null, "orient": "none", "legendX": 79, "legendY": 11, "symbolType": "M-1.9,0H1.9", "symbolSize": 81, "symbolStrokeWidth": 1.5, "labelFontSize": 7.5, "labelFont": "Liberation Sans", "rowPadding": 0, "labelOffset": 5, "padding": 3, "strokeColor": "#444", "fillColor": "#fff"}}
   }}
 ]
},
{
 "bounds": "flush", "spacing": 0,
 "resolve": {"scale": {"color": "independent"}, "legend": {"color": "independent"}},
 "hconcat": [
  {"width": 142, "height": 113, "data": {"name": "th"}, "mark": "line",
   "encoding": {
    "x": {"field": "x", "type": "quantitative", "scale": {"domain": [-1, 1], "nice": false, "zero": false}, "axis": {"values": [-0.9, -0.6, -0.3, 0, 0.3, 0.6, 0.9], "format": ".1f", "title": "cos(θ)"}},
    "y": {"field": "y", "type": "quantitative", "scale": {"domain": [0, 1.1], "nice": false}, "axis": {"values": [0, 0.2, 0.4, 0.6, 0.8, 1.0], "format": ".1f", "title": "dσ/dcos(θ)"}},
    "color": {"field": "s", "type": "nominal", "scale": {"domain": ["1.00","5.00","10.00","20.00","30.00","40.00","50.00"], "range": ["#e8161b","#1f5fa8","#fdc010","#2fb34a","#4a4a8a","#aaaaaa","#ff6b6b"]}, "legend": null}
   }},
  {"width": 41, "height": 113, "data": {"values": []}, "mark": "point"},
  {"width": 142, "height": 113,
   "encoding": {
    "x": {"field": "x", "type": "quantitative", "scale": {"domain": [-1, 1], "nice": false, "zero": false}, "axis": {"values": [-0.9, -0.6, -0.3, 0, 0.3, 0.6, 0.9], "format": ".1f", "title": "cos(α₁)"}},
    "y": {"field": "y", "type": "quantitative", "scale": {"domain": [0, 1.85], "nice": false}, "axis": {"values": [0, 0.3, 0.6, 0.9, 1.2, 1.5, 1.8], "format": ".1f", "title": "dσ/dcos(α₁)"}}
   },
   "layer": [
    {"data": {"name": "a1"}, "mark": "line",
     "encoding": {"color": {"field": "s", "type": "nominal", "scale": {"domain": ["1.00","5.00","10.00","20.00","30.00","40.00","50.00"], "range": ["#e8161b","#1f5fa8","#fdc010","#2fb34a","#4a4a8a","#aaaaaa","#ff6b6b"]}, "legend": null}}},
    {"data": {"values": [{"x": 0.47, "y": 1.76, "t": "C-Cl"}]}, "mark": {"type": "text", "fontSize": 13.5, "font": "Liberation Sans", "color": "#000"},
     "encoding": {"text": {"field": "t"}}}
   ]},
  {"width": 35, "height": 113, "data": {"values": []}, "mark": "point"},
  {"width": 142, "height": 113,
   "encoding": {
    "x": {"field": "x", "type": "quantitative", "scale": {"domain": [-1, 1], "nice": false, "zero": false}, "axis": {"values": [-0.9, -0.6, -0.3, 0, 0.3, 0.6, 0.9], "format": ".1f", "title": "cos(α₂)"}},
    "y": {"field": "y", "type": "quantitative", "scale": {"domain": [0, 0.8], "nice": false}, "axis": {"values": [0, 0.2, 0.4, 0.6, 0.8], "format": ".1f", "title": "dσ/dcos(α₂)"}}
   },
   "layer": [
    {"data": {"name": "a2"}, "mark": "line",
     "encoding": {"color": {"field": "s", "type": "nominal", "scale": {"domain": ["1.00","5.00","10.00","20.00","30.00","40.00","50.00"], "range": ["#e8161b","#1f5fa8","#fdc010","#2fb34a","#4a4a8a","#aaaaaa","#ff6b6b"]}, "legend": null}}},
    {"data": {"values": [{"x": 0.54, "y": 0.77, "t": "O-H"}]}, "mark": {"type": "text", "fontSize": 13.5, "font": "Liberation Sans", "color": "#000"},
     "encoding": {"text": {"field": "t"}}}
   ]}
 ]
},
{
 "bounds": "flush", "spacing": 0,
 "resolve": {"scale": {"color": "independent"}, "legend": {"color": "independent"}},
 "hconcat": [
  {"width": 82, "height": 112, "data": {"values": []}, "mark": "point"},
  {"width": 138, "height": 112, "data": {"name": "et"}, "mark": "line",
   "encoding": {
    "x": {"field": "x", "type": "quantitative", "scale": {"domain": [0, 90], "nice": false}, "axis": {"values": [0, 10, 20, 30, 40, 50, 60, 70, 80, 90], "title": "Eₜᵣₐₙₛ. (kcal/mol)"}},
    "y": {"field": "y", "type": "quantitative", "scale": {"domain": [0, 0.07], "nice": false}, "axis": {"values": [0, 0.02, 0.04, 0.06], "format": ".2f", "title": "dσ/dEₜᵣₐₙₛ."}},
    "color": {"field": "s", "type": "nominal", "scale": {"domain": ["1.00","5.00","10.00","20.00","30.00","40.00","50.00"], "range": ["#e8161b","#1f5fa8","#fdc010","#2fb34a","#4a4a8a","#aaaaaa","#ff6b6b"]}, "legend": null}
   }},
  {"width": 75, "height": 112, "data": {"values": []}, "mark": "point"},
  {"width": 139, "height": 112,
   "encoding": {
    "x": {"field": "x", "type": "quantitative", "scale": {"domain": [50, 163], "nice": false, "zero": false}, "axis": {"values": [60, 80, 100, 120, 140, 160], "title": "Eᵢₙₜ. (kcal/mol)"}},
    "y": {"field": "y", "type": "quantitative", "scale": {"domain": [0, 0.08], "nice": false}, "axis": {"values": [0, 0.02, 0.04, 0.06, 0.08], "format": ".2f", "title": "dσ/dEᵢₙₜ."}}
   },
   "layer": [
    {"data": {"name": "ei"}, "mark": "line",
     "encoding": {"color": {"field": "s", "type": "nominal", "scale": {"domain": ["1.00","5.00","10.00","20.00","30.00","40.00","50.00"], "range": ["#e8161b","#1f5fa8","#fdc010","#2fb34a","#4a4a8a","#aaaaaa","#ff6b6b"]},
       "legend": {"title": null, "orient": "none", "legendX": 91, "legendY": -3, "symbolType": "M-1.9,0H1.9", "symbolSize": 81, "symbolStrokeWidth": 1.5, "labelFontSize": 7.5, "labelFont": "Liberation Sans", "rowPadding": 0, "labelOffset": 5, "padding": 3, "strokeColor": "#444", "fillColor": "#fff", "labelExpr": "datum.label + ' kcal/mol'"}}}},
    {"data": {"values": [{"x": 80, "y": 0.075, "t": "C₂H₅OH"}]}, "mark": {"type": "text", "fontSize": 14, "font": "Liberation Sans", "color": "#000"},
     "encoding": {"text": {"field": "t"}}}
   ]}
 ]
}
]
}
